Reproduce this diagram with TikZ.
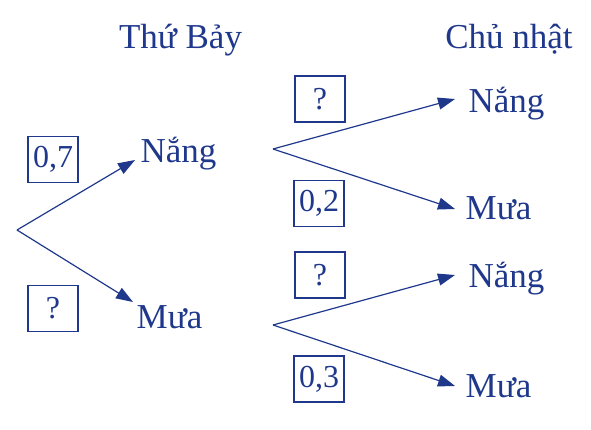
\documentclass[tikz,border=0pt]{standalone}
\usepackage{fontspec}
\setmainfont{Liberation Serif}
\usetikzlibrary{arrows.meta}
\definecolor{ink}{RGB}{31,56,140}
\begin{document}
\begin{tikzpicture}[x=1pt,y=-1pt,
  every node/.style={text=ink},
  lbl/.style={anchor=base,inner sep=0pt,font=\fontsize{35}{38}\selectfont},
  pbox/.style={draw=ink,line width=1.3pt,minimum width=50pt,minimum height=46pt,inner sep=0pt,font=\fontsize{32}{35}\selectfont},
  arr/.style={draw=ink,line width=1.2pt,-{Triangle[length=17pt,width=12pt]}}]
\useasboundingbox (0,0) rectangle (591,429);
% titles
\node[lbl] (t1) at (180.5,48) {Thứ Bảy};
\node[lbl] (t2) at (509,48) {Chủ nhật};
% level 1
\node[lbl] (n1) at (178.5,162) {Nắng};
\node[lbl] (m1) at (169.5,328) {Mưa};
% level 2
\node[lbl] (n2) at (506.5,112) {Nắng};
\node[lbl] (m2) at (498.5,219) {Mưa};
\node[lbl] (n3) at (506.5,287) {Nắng};
\node[lbl] (m3) at (498.5,397) {Mưa};
% roots and tips
\coordinate (r0) at (17,230);
\coordinate (r1) at (273,149);
\coordinate (r2) at (273,325);
\coordinate (a1) at (135,160);
\coordinate (b1) at (133,302);
\coordinate (a2) at (455,99);
\coordinate (b2) at (455,209);
\coordinate (a3) at (455,275);
\coordinate (b3) at (455,386);
\draw[arr] (r0) -- (a1);
\draw[arr] (r0) -- (b1);
\draw[arr] (r1) -- (a2);
\draw[arr] (r1) -- (b2);
\draw[arr] (r2) -- (a3);
\draw[arr] (r2) -- (b3);
% boxes
\node[pbox] (p1) at (53,159.5) {0,7};
\node[pbox] (p2) at (53,308.5) {?};
\node[pbox] (p3) at (320,99) {?};
\node[pbox] (p4) at (319,203.5) {0,2};
\node[pbox] (p5) at (320,275) {?};
\node[pbox] (p6) at (319,379) {0,3};
\end{tikzpicture}
\end{document}
